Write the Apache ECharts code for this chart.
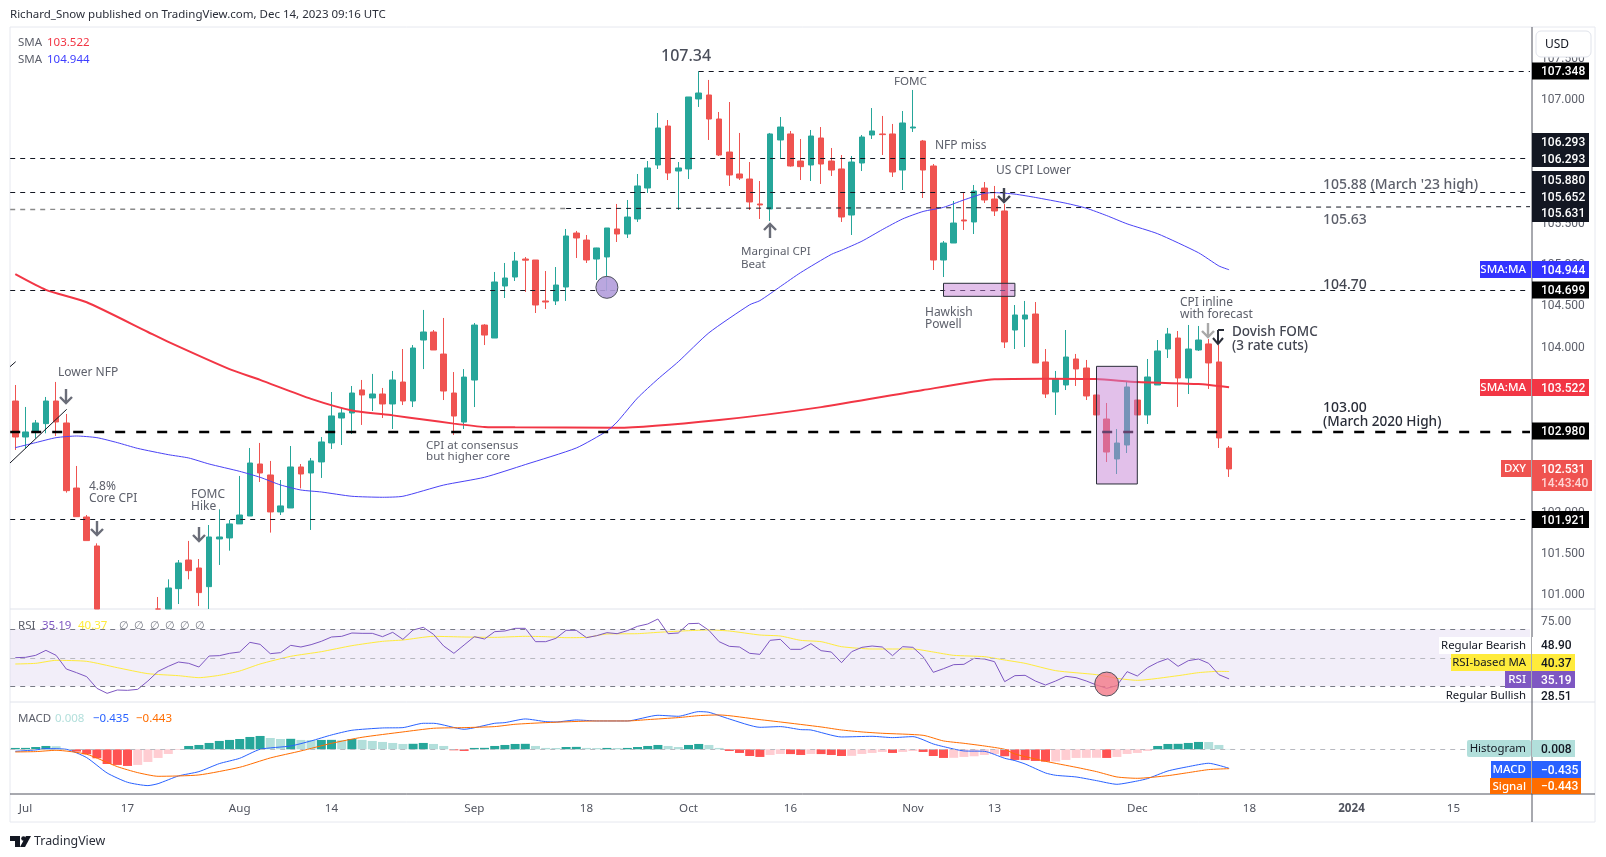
<!DOCTYPE html>
<html><head><meta charset="utf-8">
<style>html,body{margin:0;padding:0;background:#fff}#c{width:1606px;height:857px}</style>
<script src="https://cdn.jsdelivr.net/npm/echarts@6/dist/echarts.min.js"></script>
</head><body><div id="c"></div>
<script>
const opens=[103.354,102.918,102.975,103.080,103.354,103.088,102.300,101.949,101.598,100.50,
99.77,99.95,99.85,99.95,100.25,100.80,101.081,101.428,101.331,101.105,
101.683,101.695,101.865,101.961,102.591,102.458,102.010,102.058,102.555,102.482,
102.616,102.846,103.148,103.209,103.488,103.391,103.439,103.318,103.584,103.354,
104.093,104.190,103.923,103.451,103.099,103.608,104.274,104.117,104.747,104.856,
105.074,105.062,104.566,104.566,104.735,105.389,105.304,105.074,105.099,105.438,
105.377,105.559,105.934,106.213,106.685,106.140,106.165,107.013,107.061,106.770,
106.370,106.104,106.043,105.741,105.680,106.516,106.589,106.261,106.213,106.540,
106.261,106.165,105.607,106.237,106.576,106.589,106.589,106.152,106.661,106.504,
106.201,105.062,105.268,105.547,105.523,105.934,105.801,105.656,104.214,104.347,
104.408,103.827,103.463,103.548,103.863,103.754,103.427,103.136,102.652,102.821,
103.366,103.185,103.548,103.984,104.117,103.633,103.972,104.045,103.827,102.785];
const closes=[102.918,102.979,103.088,103.354,103.100,102.268,101.953,101.663,100.50,99.77,
99.90,99.85,99.95,100.25,100.80,101.089,101.392,101.299,101.033,101.707,
101.707,101.865,101.973,102.603,102.482,102.010,102.083,102.555,102.470,102.628,
102.858,103.173,103.209,103.451,103.427,103.439,103.318,103.609,103.354,103.996,
104.190,103.972,103.475,103.172,103.644,104.274,104.153,104.796,104.844,105.050,
105.060,104.517,104.553,104.759,105.353,105.329,105.062,105.208,105.450,105.377,
105.583,105.959,106.177,106.661,106.116,106.177,107.037,107.085,106.770,106.334,
106.092,106.055,105.765,105.729,106.589,106.673,106.201,106.193,106.564,106.225,
106.152,105.583,106.249,106.552,106.625,106.581,106.128,106.722,106.673,106.152,
105.062,105.268,105.510,105.535,105.898,105.789,105.656,104.069,104.396,104.396,
103.815,103.439,103.621,103.887,103.742,103.415,103.185,102.736,102.845,103.524,
103.185,103.645,103.960,104.166,103.633,103.984,104.093,103.815,102.906,102.531];
const lows=[102.761,102.781,102.902,102.963,102.930,102.244,101.950,101.663,100.45,99.75,
99.60,99.75,99.70,99.90,100.20,100.70,100.895,101.194,100.87,100.80,
101.368,101.541,101.865,101.961,102.373,101.760,101.973,102.058,102.296,101.792,
102.422,102.773,102.821,102.955,103.064,103.233,103.148,103.015,103.305,103.281,
103.741,103.972,103.366,102.942,103.015,103.281,104.032,104.117,104.602,104.808,
104.675,104.420,104.469,104.517,104.566,105.086,105.026,104.820,104.687,105.280,
105.329,105.523,105.874,106.165,106.031,105.668,106.043,106.916,106.516,106.322,
105.959,106.031,105.668,105.559,105.535,106.298,106.193,106.031,106.019,105.983,
106.080,105.523,105.365,106.140,106.528,106.334,106.068,105.910,106.613,105.813,
104.941,104.856,105.268,105.426,105.377,105.753,105.595,103.996,103.984,104.008,
103.815,103.391,103.185,103.487,103.536,103.366,103.18,102.615,102.470,102.724,
103.185,103.076,103.548,103.875,103.282,103.439,103.96,103.500,102.785,102.434];
const highs=[103.548,103.282,103.124,103.403,103.585,103.197,102.567,101.973,101.630,100.55,
100.00,100.05,100.10,100.40,100.98,101.194,101.428,101.659,101.440,101.852,
102.042,101.913,102.446,102.785,102.846,102.628,102.397,102.809,102.591,102.664,
102.918,103.463,103.270,103.536,103.609,103.682,103.512,103.718,103.984,104.032,
104.457,104.214,104.360,103.705,103.741,104.299,104.285,104.917,105.026,105.159,
105.098,105.062,104.929,104.977,105.438,105.414,105.365,105.21,105.45,105.741,
105.789,106.104,106.261,106.843,106.758,106.249,107.037,107.348,107.243,106.855,
106.976,106.601,106.249,106.019,106.601,106.794,106.625,106.528,106.637,106.673,
106.419,106.334,106.322,106.576,106.903,106.807,106.710,106.867,107.122,106.516,
106.225,105.292,105.777,105.874,105.971,106.007,105.959,105.741,104.517,104.566,
104.553,103.984,103.718,104.214,103.924,103.851,103.43,103.330,103.015,103.597,
103.37,103.863,104.093,104.239,104.202,104.275,104.263,104.105,104.033,102.809];

const smaRedBars=[0,3,7,13,15,21,24,29,33,37,40,43,46,49,59,69,79,89,96,101,106,110,116,119];
const smaRedVals=[104.89,104.70,104.55,104.19,104.07,103.74,103.61,103.38,103.24,103.18,103.13,103.08,103.04,103.035,103.03,103.124,103.28,103.487,103.617,103.625,103.62,103.584,103.56,103.522];
const smaBlueBars=[0,2,4,6,8,10,12,15,17,19,22,24,26,28,30,33,36,38,42,46,50,55,58,59,61,63,65,68,72,73,75,77,80,81,83,85,87,89,91,93,95,96,98,100,103,105,107,109,112,116,118,119];
const smaBlueVals=[102.789,102.85,102.91,102.93,102.91,102.85,102.78,102.704,102.664,102.591,102.502,102.43,102.337,102.276,102.252,102.20,102.188,102.20,102.336,102.43,102.584,102.785,102.99,103.10,103.39,103.62,103.83,104.18,104.52,104.57,104.74,104.91,105.13,105.18,105.29,105.43,105.56,105.65,105.70,105.79,105.87,105.878,105.86,105.82,105.75,105.69,105.60,105.50,105.38,105.15,104.99,104.944];

const rsiVals=[50.09,50.33,51.73,55.24,51.73,42.14,39.57,36.76,28.57,25.06,27.40,27.17,27.87,33.72,40.50,44.01,47.05,46.12,43.54,51.26,
51.50,53.13,54.07,60.85,59.45,52.90,53.60,58.75,57.58,59.22,61.56,64.60,65.06,67.40,67.17,67.17,64.83,67.87,62.96,69.51,
71.38,66.47,58.28,53.13,58.98,64.83,63.19,68.34,68.81,70.68,70.68,61.32,61.32,63.66,69.27,69.27,64.13,65.53,67.64,66.93,
69.04,72.08,73.72,77.23,66.93,67.40,73.95,74.19,69.27,61.32,58.05,57.58,53.13,52.43,62.26,62.96,55.94,55.94,59.92,55.01,
54.07,46.59,54.30,57.35,58.28,57.58,51.50,57.81,57.35,50.80,39.80,42.37,45.18,45.41,49.63,49.16,47.29,33.25,37.46,37.70,
33.72,30.91,33.72,37.00,36.06,33.72,30.91,28.57,30.44,40.27,37.23,43.08,46.82,49.39,44.01,47.99,49.16,46.12,38.16,35.19];
const rsiMaBars=[0,2,4,7,10,13,16,18,20,22,24,27,30,33,36,38,41,44,47,50,52,54,56,58,61,63,66,68,70,73,75,77,79,81,84,88,90,92,95,97,99,102,106,108,110,114,116,118,119];
const rsiMaVals=[45.65,46.12,48.22,47.52,43.08,38.87,37.46,36.06,37.70,40.74,45.65,51.03,54.30,58.52,61.56,62.49,65.06,64.60,64.36,65.06,64.83,64.13,64.36,66.70,66.93,67.87,69.04,69.51,68.81,66.0,65.30,62.26,61.32,57.81,56.17,56.17,54.07,51.73,50.80,48.46,46.12,40.97,38.16,35.59,34.19,37.46,39.57,40.50,40.37];

const histVals=[0.031,0.032,0.053,0.076,0.070,0.008,-0.053,-0.114,-0.206,-0.336,-0.358,-0.381,-0.358,-0.290,-0.198,-0.107,-0.015,0.076,0.099,0.145,
0.191,0.214,0.236,0.282,0.305,0.259,0.236,0.240,0.214,0.210,0.214,0.216,0.206,0.236,0.214,0.191,0.168,0.145,0.122,0.126,
0.145,0.122,0.076,-0.023,-0.038,0.031,0.033,0.076,0.099,0.122,0.125,0.076,0.031,0.029,0.053,0.055,0.031,0.028,0.031,0.029,
0.031,0.053,0.076,0.099,0.076,0.053,0.099,0.122,0.099,0.031,-0.038,-0.084,-0.153,-0.175,-0.130,-0.107,-0.110,-0.130,-0.107,-0.110,
-0.130,-0.153,-0.150,-0.107,-0.084,-0.061,-0.084,-0.061,-0.038,-0.061,-0.153,-0.198,-0.195,-0.175,-0.160,-0.130,-0.107,-0.160,-0.244,-0.247,
-0.267,-0.282,-0.280,-0.244,-0.198,-0.196,-0.194,-0.198,-0.175,-0.107,-0.084,-0.038,0.076,0.122,0.125,0.145,0.168,0.166,0.099,0.008];
const macdBars=[0,2,3,5,7,9,11,13,14,16,18,20,22,24,27,29,31,33,36,38,40,41,44,47,48,50,52,53,55,57,60,63,65,67,68,70,73,75,77,78,81,84,86,88,90,91,93,95,97,98,99,101,102,104,106,108,110,111,113,115,117,119];
const macdVals=[-0.046,-0.015,0.015,0,-0.191,-0.542,-0.755,-0.831,-0.786,-0.610,-0.511,-0.328,-0.206,0,0.076,0.191,0.328,0.435,0.488,0.496,0.595,0.595,0.458,0.595,0.610,0.694,0.633,0.625,0.671,0.648,0.648,0.778,0.755,0.862,0.847,0.694,0.503,0.519,0.450,0.442,0.282,0.297,0.267,0.290,0.122,0.061,-0.038,-0.046,-0.206,-0.259,-0.336,-0.542,-0.595,-0.633,-0.717,-0.801,-0.725,-0.671,-0.496,-0.397,-0.320,-0.435];
const signalBars=[0,2,4,7,10,12,14,18,22,25,28,31,34,38,41,44,47,49,52,57,60,62,65,67,69,73,75,79,81,83,85,89,91,93,95,97,98,101,104,106,108,110,113,115,117,119];
const signalVals=[-0.061,-0.053,-0.023,-0.114,-0.397,-0.534,-0.618,-0.587,-0.412,-0.198,-0.038,0.137,0.275,0.397,0.481,0.496,0.519,0.572,0.610,0.648,0.648,0.679,0.725,0.770,0.786,0.679,0.625,0.511,0.442,0.397,0.366,0.320,0.191,0.137,0.076,0,-0.107,-0.275,-0.412,-0.511,-0.633,-0.664,-0.603,-0.534,-0.465,-0.443];

const dateBars=[1,11,22,31,45,56,66,76,88,96,110,121,131,141];
const dateLabels=['Jul','17','Aug','14','Sep','18','Oct','16','Nov','13','Dec','18','2024','15'];
const priceTicks=[107.5,107,106.5,106,105.5,105,104.5,104,103.5,103,102.5,102,101.5,101];

const BAR_SLOTS=149;
const PRICE_MIN=100.8345;
const cats=Array.from({length:BAR_SLOTS},(_,i)=>{const k=dateBars.indexOf(i);return k>=0?dateLabels[k]:''});
const zip=(a,b)=>a.map((v,i)=>[v,b[i]]);
const UP='#26a69a',DN='#ef5350',TXT='#5d606b';
const SANS='"Noto Sans"';
const histColor=(v,p)=>v>=0?(p<v?'#26a69a':'#b2dfdb'):(p<v?'#ffcdd2':'#ff5252');
const floorAt=v=>Math.max(v,PRICE_MIN);
const candleData=opens.map((o,i)=>highs[i]<PRICE_MIN?'-':[floorAt(o),floorAt(closes[i]),floorAt(lows[i]),floorAt(highs[i])]);

const g=[];
const T=(x,y,text,fill,font,align)=>g.push({type:'text',x,y,z:120,silent:true,style:{text,fill,font:font||('12px '+SANS),textAlign:align||'left',textVerticalAlign:'middle'}});
const R=(x,y,w,h,fill,stroke,r,z)=>g.push({type:'rect',z:z||110,silent:true,shape:{x,y,width:w,height:h,r:r||0},style:{fill:fill||'transparent',stroke:stroke||null,lineWidth:stroke?1:0}});
const L=(pts,stroke,w,z)=>g.push({type:'polyline',z:z||105,silent:true,shape:{points:pts},style:{stroke,lineWidth:w||1,fill:null}});
function arrow(x,y,dir,c){const h=7,s=dir;L([[x,y-s*h],[x,y+s*h]],c,2.4);L([[x-6,y+s*1],[x,y+s*h],[x+6,y+s*1]],c,2.4);}

// frame and pane rules
R(10,27,1585,795,null,'#e6e8ef',0,1);
L([[10,609],[1595,609]],'#e0e3eb',1,2);
L([[10,702],[1595,702]],'#e0e3eb',1,2);
L([[10,794],[1595,794]],'#50535e',1,3);
L([[1532,27],[1532,822]],'#50535e',1,3);
// header
T(10,15,'Richard_Snow published on TradingView.com, Dec 14, 2023 09:16 UTC','#2a2e39','11.5px '+SANS);
T(18,43,'SMA','#5d606b','11.5px '+SANS);T(47,43,'103.522','#f23645','11.5px '+SANS);
T(18,60,'SMA','#5d606b','11.5px '+SANS);T(47,60,'104.944','#3d3dff','11.5px '+SANS);
T(18,626,'RSI','#5d606b','11.5px '+SANS);T(42,626,'35.19','#7e57c2','11.5px '+SANS);T(78,626,'40.37','#ffeb3b','11.5px '+SANS);
[119,134,150,165,180,195].forEach(x=>T(x,626,'∅','#787b86','11px '+SANS));
T(18,719,'MACD','#5d606b','11.5px '+SANS);T(55,719,'0.008','#b2dfdb','11.5px '+SANS);T(93,719,'−0.435','#2962ff','11.5px '+SANS);T(136,719,'−0.443','#ff6d00','11.5px '+SANS);
// annotations
T(661,56,'107.34','#4a4e5a','500 16px '+SANS);
T(894,82,'FOMC',TXT,'11.6px '+SANS);T(935,146,'NFP miss',TXT);T(996,171,'US CPI Lower',TXT);
T(1323,185,"105.88 (March '23 high)",TXT,'500 14px '+SANS);
T(1323,220,'105.63',TXT,'500 14px '+SANS);
T(1323,285,'104.70','#434651','500 14px '+SANS);
T(741,252,'Marginal CPI',TXT,'11.6px '+SANS);T(741,265,'Beat',TXT,'11.6px '+SANS);
T(925,313,'Hawkish',TXT);T(925,325,'Powell',TXT);
T(1180,303,'CPI inline',TXT);T(1180,315,'with forecast',TXT);
T(1232,332,'Dovish FOMC','#434651','500 13.5px '+SANS);T(1232,346,'(3 rate cuts)','#434651','500 13.5px '+SANS);
T(1323,408,'103.00','#2a2e39','500 14px '+SANS);T(1323,422,'(March 2020 High)','#2a2e39','500 13.6px '+SANS);
T(58,373,'Lower NFP',TXT);
T(89,487,'4.8%',TXT);T(89,499,'Core CPI',TXT);
T(191,495,'FOMC',TXT);T(191,507,'Hike',TXT);
T(426,446,'CPI at consensus',TXT,'11.6px '+SANS);T(426,457,'but higher core',TXT,'11.6px '+SANS);
arrow(66,396,1,'#6a6d78');arrow(97,528,1,'#6a6d78');arrow(199,534,1,'#6a6d78');arrow(770,231,-1,'#6a6d78');
arrow(1004,195,1,'#434651');arrow(1208,330,1,'#a8a8a8');
L([[1218,330],[1218,344]],'#2a2e39',2);L([[1213,338],[1218,344],[1223,338]],'#2a2e39',2);L([[1218,330],[1224,330]],'#2a2e39',2);
// trend line pieces
L([[10,463],[66.7,409.3]],'#131722',1);L([[10,366.7],[15.7,361.7]],'#131722',1);
// price scale tags
const V=1541,VF='500 12px Roboto';
const VT=(y,t,c)=>T(V,y+1,t,c||'#fff',VF);
R(1532,62.5,57,17,'#000');VT(71,'107.348');
R(1532,133,57,34,'#131722');VT(142,'106.293');VT(158.5,'106.293');
R(1532,171,57,51,'#131722');VT(180,'105.880');VT(197,'105.652');VT(213,'105.631');
R(1532,261,57,17,'#3333ff');VT(269.5,'104.944');
R(1480,261,51,17,'#3333ff');T(1526,270,'SMA:MA','#fff','500 11.5px '+SANS,'right');
R(1532,281.5,57,17,'#000');VT(290,'104.699');
R(1532,379,57,17,'#f23645');VT(387.5,'103.522');
R(1480,379,51,17,'#f23645');T(1526,388,'SMA:MA','#fff','500 11.5px '+SANS,'right');
R(1532,422.5,57,17,'#000');VT(431,'102.980');
R(1532,460,60,31,DN);VT(469,'102.531');VT(483,'14:43:40','#ffd5d3');
R(1501,460,30,17,DN);T(1526,469,'DXY','#fff','500 11.5px '+SANS,'right');
R(1532,511,57,17,'#000');VT(519.5,'101.921');
R(1536,31,55,26,'#fff','#e0e3eb',5);T(1545,45,'USD','#131722','12px '+SANS);
// RSI and MACD tags
R(1439,637,92,17,'#fff');T(1526,646,'Regular Bearish','#131722','11.4px '+SANS,'right');R(1532,637,44,17,'#fff');VT(645,'48.90','#131722');
R(1451,654,80,17,'#ffeb3b');T(1526,663,'RSI-based MA','#131722','11.4px '+SANS,'right');R(1532,654,43,17,'#ffeb3b');VT(662.5,'40.37','#131722');
R(1505,671,26,17,'#7e57c2');T(1526,680,'RSI','#fff','500 11.5px '+SANS,'right');R(1532,671,43,17,'#7e57c2');VT(679.5,'35.19');
R(1447,688,84,13,'#fff');T(1526,696,'Regular Bullish','#131722','11.4px '+SANS,'right');VT(696,'28.51','#131722');
R(1467,740,64,17,'#b2dfdb',null,2);T(1526,749,'Histogram','#131722','11.4px '+SANS,'right');R(1532,740,43,17,'#b2dfdb');VT(748.5,'0.008','#131722');
R(1491,761,40,17,'#2962ff');T(1526,770,'MACD','#fff','500 11.5px '+SANS,'right');R(1532,761,49,17,'#2962ff');VT(769.5,'−0.435');
R(1490,778,41,16,'#ff6d00');T(1526,786.5,'Signal','#fff','500 11.5px '+SANS,'right');R(1532,778,49,16,'#ff6d00');VT(786,'−0.443');
// logo
g.push({type:'polygon',z:100,silent:true,shape:{points:[[10,836],[20,836],[20,847],[15,847],[15,841],[10,841]]},style:{fill:'#131722'}});
g.push({type:'circle',z:100,silent:true,shape:{cx:23.5,cy:838.5,r:2.3},style:{fill:'#131722'}});
g.push({type:'polygon',z:100,silent:true,shape:{points:[[26,836],[31,836],[25,847],[20,847]]},style:{fill:'#131722'}});
T(34,841,'TradingView','#2a2e39','12.4px '+SANS);

const lvl=(v,w,dash,c)=>({yAxis:v,lineStyle:{color:c||'#131722',width:w,type:dash}});
const seg=(a,av,b,bv,ax,bx,w,dash,c)=>[{coord:[a,av],x:ax,lineStyle:{color:c,width:w,type:dash}},{coord:[b,bv],x:bx}];

const opt={animation:false,backgroundColor:'#fff',textStyle:{fontFamily:SANS},
graphic:{elements:g},
grid:[{left:10.2,width:1519.8,top:27,height:582},{left:10.2,width:1519.8,top:609,height:93},{left:10.2,width:1519.8,top:702,height:92}],
xAxis:[
 {type:'category',gridIndex:0,data:cats,show:false},
 {type:'category',gridIndex:1,data:cats,show:false},
 {type:'category',gridIndex:2,data:cats,axisLine:{show:false},axisTick:{show:false},
  axisLabel:{interval:0,margin:9,color:'#50535e',fontFamily:SANS,fontSize:11.6,hideOverlap:false,
   formatter:v=>v==='2024'?'{b|2024}':v,rich:{b:{fontWeight:'bold',color:'#50535e',fontFamily:SANS,fontSize:11.6}}}}
],
yAxis:[
 {type:'value',gridIndex:0,position:'right',offset:2,min:PRICE_MIN,max:107.8846,axisLine:{show:false},axisTick:{show:false},splitLine:{show:false},
  axisLabel:{customValues:priceTicks,margin:9,color:'#5d606b',fontFamily:'Roboto',fontSize:12,formatter:v=>v.toFixed(3)}},
 {type:'value',gridIndex:1,position:'right',offset:2,min:18.98,max:84.25,axisLine:{show:false},axisTick:{show:false},splitLine:{show:false},
  axisLabel:{customValues:[75],margin:9,color:'#5d606b',fontFamily:'Roboto',fontSize:12,formatter:v=>v.toFixed(2)}},
 {type:'value',gridIndex:2,position:'right',offset:2,min:-1.023,max:1.082,axisLine:{show:false},axisTick:{show:false},splitLine:{show:false},axisLabel:{show:false}}
],
series:[
 {type:'candlestick',name:'DXY',xAxisIndex:0,yAxisIndex:0,barWidth:6,z:3,clip:true,
  data:candleData,
  itemStyle:{color:UP,color0:DN,borderColor:UP,borderColor0:DN,borderWidth:1}},
 {type:'line',name:'Levels',xAxisIndex:0,yAxisIndex:0,data:[],z:2,silent:true,
  markLine:{silent:true,symbol:'none',label:{show:false},animation:false,precision:3,data:[
   seg(67,107.348,148,107.348,undefined,1530,1,[5,5],'#131722'),
   lvl(106.293,1,[5,5]),lvl(105.88,1,[5,5]),lvl(104.699,1,[5,5]),lvl(102.98,2.4,[10,11],'#000'),lvl(101.921,1,[5,5]),
   seg(0,105.674,54,105.686,10.2,undefined,1.4,[5,5],'#8a8a8a'),
   seg(54,105.686,148,105.708,undefined,1530,1,[5,5],'#131722')
  ]}},
 {type:'line',name:'SMA 200',xAxisIndex:0,yAxisIndex:0,data:zip(smaRedBars,smaRedVals),showSymbol:false,smooth:0.2,z:4,silent:true,lineStyle:{color:'#f23645',width:2}},
 {type:'line',name:'SMA 50',xAxisIndex:0,yAxisIndex:0,data:zip(smaBlueBars,smaBlueVals),showSymbol:false,smooth:0.2,z:4,silent:true,lineStyle:{color:'#4a42f5',width:1}},
 {type:'line',name:'Notes',xAxisIndex:0,yAxisIndex:0,data:[],z:6,silent:true,
  markArea:{silent:true,z:6,itemStyle:{color:'rgba(198,130,214,0.5)',borderColor:'#2a2e39',borderWidth:1},data:[
   [{coord:[91,104.780]},{coord:[98,104.622]}],
   [{coord:[106,103.774]},{coord:[110,102.349]}]
  ]},
  markPoint:{silent:true,z:7,symbol:'circle',symbolSize:22,label:{show:false},
   itemStyle:{color:'rgba(179,157,219,0.9)',borderColor:'#50535e',borderWidth:1},
   data:[{coord:[58,104.731]}]}},
 {type:'line',name:'RSI',xAxisIndex:1,yAxisIndex:1,data:rsiVals,showSymbol:false,z:4,silent:true,lineStyle:{color:'#7e57c2',width:1},
  markArea:{silent:true,z:1,itemStyle:{color:'rgba(126,87,194,0.1)'},data:[[{yAxis:70},{yAxis:30}]]},
  markLine:{silent:true,symbol:'none',label:{show:false},data:[
   {yAxis:70,lineStyle:{color:'#787b86',width:1,type:[5,5]}},
   {yAxis:50,lineStyle:{color:'#b8b9c0',width:1,type:[5,5]}},
   {yAxis:30,lineStyle:{color:'#787b86',width:1,type:[5,5]}}]},
  markPoint:{silent:true,z:7,symbol:'circle',symbolSize:24,label:{show:false},
   itemStyle:{color:'rgba(242,120,135,0.8)',borderColor:'#50535e',borderWidth:1},
   data:[{coord:[107,31.6]}]}},
 {type:'line',name:'RSI MA',xAxisIndex:1,yAxisIndex:1,data:zip(rsiMaBars,rsiMaVals),showSymbol:false,smooth:0.2,z:3,silent:true,lineStyle:{color:'#ffeb3b',width:1}},
 {type:'bar',name:'Histogram',xAxisIndex:2,yAxisIndex:2,barWidth:9,z:2,silent:true,
  data:histVals.map((v,i)=>({value:v,itemStyle:{color:histColor(v,i?histVals[i-1]:0)}})),
  markLine:{silent:true,symbol:'none',label:{show:false},data:[{yAxis:0,lineStyle:{color:'#b8b9c0',width:1,type:[5,5]}}]}},
 {type:'line',name:'MACD',xAxisIndex:2,yAxisIndex:2,data:zip(macdBars,macdVals),showSymbol:false,smooth:0.2,z:4,silent:true,lineStyle:{color:'#2962ff',width:1}},
 {type:'line',name:'Signal',xAxisIndex:2,yAxisIndex:2,data:zip(signalBars,signalVals),showSymbol:false,smooth:0.2,z:4,silent:true,lineStyle:{color:'#ff6d00',width:1}}
]};
const chart=echarts.init(document.getElementById('c'),null,{renderer:'canvas',width:1606,height:857});
chart.setOption(opt);
</script></body></html>
